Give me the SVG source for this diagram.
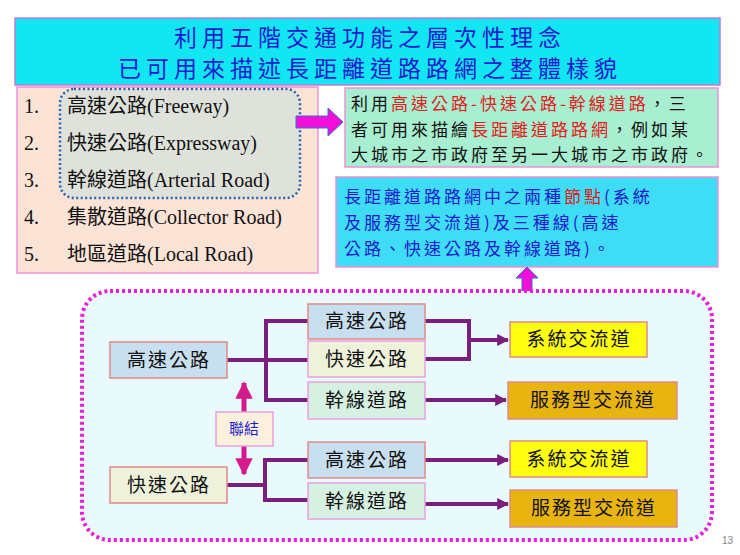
<svg xmlns="http://www.w3.org/2000/svg" width="740" height="555" viewBox="0 0 740 555">
<style>
.nd{stroke:#E08A8A;stroke-width:1.5}
.nt{font-family:"Noto Sans CJK TC",sans-serif;font-size:19px;text-anchor:middle;fill:#111;letter-spacing:2px}
.cn{fill:none;stroke:#7A1E80;stroke-width:4}
.li{font-family:"Liberation Serif","Noto Sans CJK TC",serif;font-size:20px;fill:#111}
.bx{font-family:"Noto Sans CJK TC",sans-serif;font-size:17px;letter-spacing:3px}
.tt{font-family:"Noto Sans CJK TC",sans-serif;font-size:23px;fill:#1A1AD0;text-anchor:middle;letter-spacing:5px}
</style>
<defs>
<marker id="ah" viewBox="0 0 10 10" refX="9" refY="5" markerWidth="3" markerHeight="3.5" orient="auto"><path d="M0,0L10,5L0,10z" fill="#7A1E80"/></marker>
<marker id="mh" viewBox="0 0 10 10" refX="9" refY="5" markerWidth="3.5" markerHeight="3.5" orient="auto-start-reverse"><path d="M0,0L10,5L0,10z" fill="#D41A8C"/></marker>
</defs>
<rect width="740" height="555" fill="#fff"/>
<g id="title"><rect x="15" y="18" width="705" height="67" fill="#12E6F2" stroke="#C27BD0" stroke-width="1.5"/>
<text class="tt" x="370" y="46">利用五階交通功能之層次性理念</text>
<text class="tt" x="370" y="77">已可用來描述長距離道路路網之整體樣貌</text></g>
<g id="list"><rect x="17" y="87" width="301" height="186" fill="#FBE3D6" stroke="#F090D8" stroke-width="1.5"/>
<rect x="60" y="89" width="240" height="109" rx="14" fill="#DEE2DA" stroke="#2A62B0" stroke-width="2.5" stroke-dasharray="2,2.5"/>
<text class="li" x="24" y="113">1.</text><text class="li" x="67" y="113">高速公路(Freeway)</text>
<text class="li" x="24" y="150">2.</text><text class="li" x="67" y="150">快速公路(Expressway)</text>
<text class="li" x="24" y="187">3.</text><text class="li" x="67" y="187">幹線道路(Arterial Road)</text>
<text class="li" x="24" y="224">4.</text><text class="li" x="67" y="224">集散道路(Collector Road)</text>
<text class="li" x="24" y="261">5.</text><text class="li" x="67" y="261">地區道路(Local Road)</text></g>
<g id="arrow1"><path d="M296,116H328V108L343,122L328,136V128H296Z" fill="#F20FDC" stroke="#3070C0" stroke-width="1"/></g>
<g id="green"><rect x="345" y="88" width="373" height="79" fill="#A8EED0" stroke="#F090D8" stroke-width="1.5"/>
<text class="bx" x="351" y="110" fill="#111">利用<tspan fill="#E02020">高速公路-快速公路-幹線道路</tspan>，三</text>
<text class="bx" x="351" y="136" fill="#111">者可用來描繪<tspan fill="#E02020">長距離道路路網</tspan>，例如某</text>
<text class="bx" x="351" y="161" fill="#111" letter-spacing="2.6">大城市之市政府至另一大城市之市政府。</text></g>
<g id="blue"><rect x="336" y="177" width="382" height="90" fill="#3EDDF5" stroke="#F090D8" stroke-width="1.5"/>
<text class="bx" x="344" y="203" fill="#1A1AD0">長距離道路路網中之兩種<tspan fill="#E02020">節點</tspan>(系統</text>
<text class="bx" x="344" y="229" fill="#1A1AD0">及服務型交流道)及三種線(高速</text>
<text class="bx" x="344" y="255" fill="#1A1AD0">公路、快速公路及幹線道路)。</text></g>
<g id="arrow2"><path d="M522,292V278H516L527,267L538,278H532V292Z" fill="#F20FDC" stroke="#3070C0" stroke-width="1"/></g>
<rect x="82" y="291" width="630" height="249" rx="28" fill="#E8FAFC" stroke="#E81ED8" stroke-width="4" stroke-dasharray="3,3"/>
<g id="connectors">
<path class="cn" d="M227,360H266M266,321V400M264,321H308M266,360H308M264,400H308"/>
<path class="cn" d="M425,321H469V359H425"/>
<path class="cn" d="M469,340H508" marker-end="url(#ah)"/>
<path class="cn" d="M425,400H506" marker-end="url(#ah)"/>
<path class="cn" d="M227,485H265M265,460V500M263,460H308M263,500H308"/>
<path class="cn" d="M425,460H508" marker-end="url(#ah)"/>
<path class="cn" d="M425,504H508" marker-end="url(#ah)"/>
<path d="M244,383V474" stroke="#D41A8C" stroke-width="5" marker-start="url(#mh)" marker-end="url(#mh)"/>
</g>
<g id="n1"><rect class="nd" x="110" y="342" width="117" height="36" fill="#C8DFF0"/><text class="nt" x="169" y="367">高速公路</text></g>
<g id="n2"><rect class="nd" x="110" y="467" width="117" height="36" fill="#EEF2DA"/><text class="nt" x="169" y="492">快速公路</text></g>
<g id="n3"><rect class="nd" x="308" y="304" width="117" height="35" fill="#C8DFF0"/><text class="nt" x="367" y="328">高速公路</text></g>
<g id="n4"><rect x="308" y="341" width="117" height="36" fill="#EEF2DA" stroke="#E8A0E0" stroke-width="1.5"/><text class="nt" x="367" y="366">快速公路</text></g>
<g id="n5"><rect x="308" y="382" width="117" height="37" fill="#D6F0E2" stroke="#E8A0E0" stroke-width="1.5"/><text class="nt" x="367" y="407">幹線道路</text></g>
<g id="n6"><rect class="nd" x="308" y="442" width="117" height="36" fill="#C8DFF0"/><text class="nt" x="367" y="467">高速公路</text></g>
<g id="n7"><rect x="308" y="483" width="117" height="36" fill="#D6F0E2" stroke="#E8A0E0" stroke-width="1.5"/><text class="nt" x="367" y="508">幹線道路</text></g>
<g id="n8"><rect class="nd" x="510" y="322" width="137" height="35" fill="#FFFF10"/><text class="nt" x="579" y="346">系統交流道</text></g>
<g id="n9"><rect class="nd" x="508" y="382" width="169" height="37" fill="#E8B410"/><text class="nt" x="593" y="407">服務型交流道</text></g>
<g id="n10"><rect class="nd" x="510" y="441" width="137" height="36" fill="#FFFF10"/><text class="nt" x="579" y="466">系統交流道</text></g>
<g id="n11"><rect class="nd" x="510" y="490" width="167" height="37" fill="#E8B410"/><text class="nt" x="594" y="515">服務型交流道</text></g>
<g id="n12"><rect x="216" y="412" width="57" height="34" fill="#FDF0DC" stroke="#E8A0E0" stroke-width="1.5"/><text x="244" y="434" text-anchor="middle" font-family="Noto Sans CJK TC,sans-serif" font-size="15" fill="#1A1AD0">聯結</text></g>
<text x="722" y="544" font-family="Liberation Sans,sans-serif" font-size="10" fill="#888">13</text>
</svg>
